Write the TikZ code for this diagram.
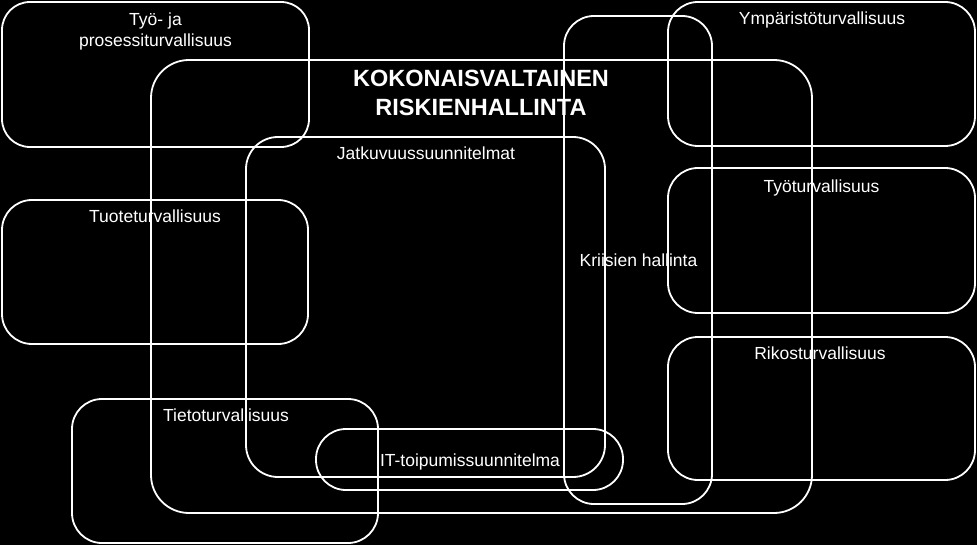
\documentclass[tikz,border=0pt]{standalone}
\usepackage{fontspec}
\setmainfont{Liberation Sans}
\begin{document}
\begin{tikzpicture}[x=1pt,y=-1pt,
  area/.style={draw=white,line width=1.8pt,rectangle,inner sep=0pt,outer sep=0pt,rounded corners=#1},
  area/.default=30pt,
  lbl/.style={text=white,inner sep=0pt,font=\fontsize{17.5}{21}\selectfont},
  ttl/.style={text=white,inner sep=0pt,align=center,font=\fontsize{23.5}{29}\selectfont\bfseries}]
\fill[black] (0,0) rectangle (977,545);
\useasboundingbox (0,0) rectangle (977,545);
% boxes
\node[area=28pt,minimum width=307pt,minimum height=145pt] (tyo) at (155.5,74.5) {};
\node[area=38pt,minimum width=661pt,minimum height=453pt] (koko) at (481.5,286.5) {};
\node[area=32pt,minimum width=359pt,minimum height=340pt] (jatk) at (425.5,307) {};
\node[area=30pt,minimum width=148pt,minimum height=488pt] (kriis) at (638,260) {};
\node[area,minimum width=307pt,minimum height=144pt] (ymp) at (821.5,74) {};
\node[area,minimum width=307pt,minimum height=145pt] (tyot) at (821.5,240.5) {};
\node[area,minimum width=307pt,minimum height=143pt] (rikos) at (821.5,408.5) {};
\node[area,minimum width=306pt,minimum height=144pt] (tuote) at (155,272) {};
\node[area,minimum width=306pt,minimum height=144pt] (tieto) at (225,471) {};
\node[area,minimum width=307pt,minimum height=61pt] (itt) at (469.5,459.5) {};
% labels
\node[lbl,anchor=north,align=center] (tyoL) at (155.5,12.5) {Työ- ja\\prosessiturvallisuus};
\node[ttl,anchor=north] (kokoL) at (481,70) {KOKONAISVALTAINEN\\RISKIENHALLINTA};
\node[lbl,anchor=base] (jatkL) at (426,160) {Jatkuvuussuunnitelmat};
\node[lbl,anchor=base] (ympL) at (822,25) {Ympäristöturvallisuus};
\node[lbl,anchor=base] (tyotL) at (821.5,193) {Työturvallisuus};
\node[lbl,anchor=base] (rikosL) at (820,359) {Rikosturvallisuus};
\node[lbl,anchor=base] (kriisL) at (638.5,267) {Kriisien hallinta};
\node[lbl,anchor=base] (tuoteL) at (155,223) {Tuoteturvallisuus};
\node[lbl,anchor=base] (tietoL) at (226,421.5) {Tietoturvallisuus};
\node[lbl,anchor=base] (ittL) at (470,466.5) {IT-toipumissuunnitelma};
\end{tikzpicture}
\end{document}
